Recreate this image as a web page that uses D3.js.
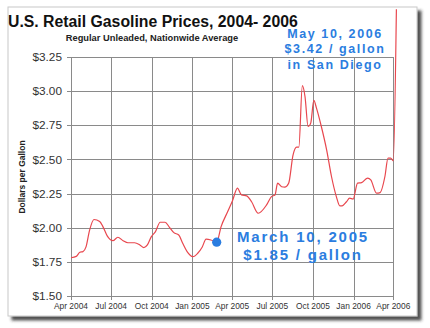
<!DOCTYPE html>
<html><head><meta charset="utf-8">
<script src="https://cdn.jsdelivr.net/npm/d3@7/dist/d3.min.js"></script>
<style>body{margin:0;background:#fff}svg{display:block}text{font-family:"Liberation Sans",Arial,sans-serif}</style>
</head><body>
<script>
const title = "U.S. Retail Gasoline Prices, 2004- 2006";
const subtitle = "Regular Unleaded, Nationwide Average";
const yAxisTitle = "Dollars per Gallon";
const yTicks = [1.5, 1.75, 2.0, 2.25, 2.5, 2.75, 3.0, 3.25];
const xTicks = ["2004-04-01","2004-07-01","2004-10-01","2005-01-01","2005-04-01","2005-07-01","2005-10-01","2006-01-01","2006-04-01"];
const xTickLabels = ["Apr 2004","Jul 2004","Oct 2004","Jan 2005","Apr 2005","Jul 2005","Oct 2005","Jan 2006","Apr 2006"];
const dates = ["2004-04-01","2004-04-13","2004-04-21","2004-04-28","2004-05-05","2004-05-13","2004-05-23","2004-06-05","2004-06-12","2004-06-22",
"2004-07-05","2004-07-16","2004-07-28","2004-08-08","2004-08-23","2004-09-04","2004-09-13","2004-09-21","2004-09-30","2004-10-09",
"2004-10-20","2004-10-31","2004-11-10","2004-11-20","2004-12-01","2004-12-10","2004-12-20","2005-01-02","2005-01-13","2005-01-23",
"2005-02-01","2005-02-12","2005-02-25","2005-03-07","2005-03-22","2005-04-02","2005-04-13","2005-04-22","2005-05-04","2005-05-15",
"2005-05-30","2005-06-18","2005-06-29","2005-07-07","2005-07-13","2005-07-22","2005-07-29","2005-08-07","2005-08-17","2005-08-25",
"2005-08-30","2005-09-07","2005-09-13","2005-09-20","2005-09-26","2005-10-03","2005-10-09","2005-10-20","2005-11-01","2005-11-12",
"2005-11-23","2005-12-01","2005-12-06","2005-12-16","2005-12-23","2005-12-31","2006-01-10","2006-01-19","2006-02-02","2006-02-09",
"2006-02-22","2006-03-02","2006-03-13","2006-03-20","2006-03-26","2006-04-01","2006-04-08"];
const prices = [1.78,1.79,1.82,1.825,1.86,1.98,2.06,2.045,2.01,1.94,
1.905,1.93,1.905,1.89,1.89,1.874,1.854,1.874,1.935,1.97,
2.04,2.04,2.003,1.964,1.947,1.886,1.825,1.788,1.813,1.857,
1.916,1.91,1.894,2.008,2.118,2.20,2.29,2.24,2.233,2.19,
2.106,2.167,2.228,2.24,2.326,2.30,2.297,2.326,2.534,2.59,
2.59,3.04,2.961,2.741,2.766,2.932,2.876,2.741,2.57,2.375,
2.228,2.16,2.16,2.19,2.216,2.21,2.326,2.33,2.363,2.35,
2.253,2.257,2.375,2.51,2.51,2.49,3.60];
const markerDate = "2005-02-25";
const markerPrice = 1.894;
const noteTop = ["May 10, 2006","$3.42 / gallon","in San Diego"];
const noteBottom = ["March 10, 2005","$1.85 / gallon"];

const W = 430, H = 328;
const parse = d3.utcParse("%Y-%m-%d");
const svg = d3.select("body").append("svg").attr("width", W).attr("height", H);
const defs = svg.append("defs");
const f = defs.append("filter").attr("id","sh").attr("x","-5%").attr("y","-5%").attr("width","115%").attr("height","115%");
f.append("feDropShadow").attr("dx",4).attr("dy",4).attr("stdDeviation",1.6).attr("flood-color","#333").attr("flood-opacity",0.85);

svg.append("rect").attr("x",8).attr("y",7).attr("width",409).attr("height",309)
  .attr("fill","#fff").attr("stroke","#c8c8c8").attr("stroke-width",1).attr("filter","url(#sh)");

const x = d3.scaleUtc().domain([parse("2004-04-01"), parse("2006-04-01")]).range([71, 393.3]);
const y = d3.scaleLinear().domain([1.5, 3.25]).range([296, 57]);

const grid = svg.append("g").attr("stroke","#8a8a8a").attr("stroke-width",1).attr("shape-rendering","crispEdges");
grid.selectAll("line.h").data(yTicks).join("line").attr("class","h")
  .attr("x1", 67).attr("x2", x(parse(xTicks[xTicks.length-1]))).attr("y1", d=>Math.round(y(d))+0.5).attr("y2", d=>Math.round(y(d))+0.5);
grid.selectAll("line.v").data(xTicks).join("line").attr("class","v")
  .attr("x1", d=>Math.round(x(parse(d)))+0.5).attr("x2", d=>Math.round(x(parse(d)))+0.5).attr("y1", y(3.25)).attr("y2", y(1.5)+4);

svg.append("g").selectAll("text").data(yTicks).join("text")
  .attr("x", 62).attr("y", d=>y(d)).attr("dy","0.35em").attr("text-anchor","end")
  .attr("font-size",11.8).attr("fill","#333").text(d=>d3.format("$.2f")(d));

svg.append("g").selectAll("text").data(xTicks).join("text")
  .attr("x", d=>x(parse(d))).attr("y", 309).attr("text-anchor","middle")
  .attr("font-size",8.4).attr("fill","#333").text((d,i)=>xTickLabels[i]);

svg.append("text").attr("transform","translate(24.5,177) rotate(-90)").attr("text-anchor","middle")
  .attr("font-size",8.5).attr("font-weight","bold").attr("fill","#222").text(yAxisTitle);

svg.append("text").attr("x",8).attr("y",27).attr("font-size",15.8).attr("font-weight","bold").attr("fill","#111").text(title);
svg.append("text").attr("x",152).attr("y",40.5).attr("text-anchor","middle").attr("font-size",9.3).attr("font-weight","bold").attr("fill","#222").text(subtitle);

const series = dates.map((d,i)=>({date:parse(d), v:prices[i]}));
const line = d3.line().x(d=>x(d.date)).y(d=>y(d.v)).curve(d3.curveMonotoneX);
svg.append("path").datum(series).attr("d", line).attr("fill","none").attr("stroke","#e8474e").attr("stroke-width",1.2);

const blue = "#2b7de0";
svg.append("circle").attr("cx", x(parse(markerDate))).attr("cy", y(markerPrice)).attr("r", 4.6).attr("fill", blue);

svg.append("g").selectAll("text").data(noteTop).join("text")
  .attr("x", 335).attr("y",(d,i)=>38+i*15.3).attr("text-anchor","middle")
  .attr("font-size",12.5).attr("font-weight","bold").attr("letter-spacing",1.6).attr("fill",blue).text(d=>d);
svg.append("g").selectAll("text").data(noteBottom).join("text")
  .attr("x", 303).attr("y",(d,i)=>242+i*17.5).attr("text-anchor","middle")
  .attr("font-size",15).attr("font-weight","bold").attr("letter-spacing",1.8).attr("fill",blue).text(d=>d);
</script>
</body></html>
